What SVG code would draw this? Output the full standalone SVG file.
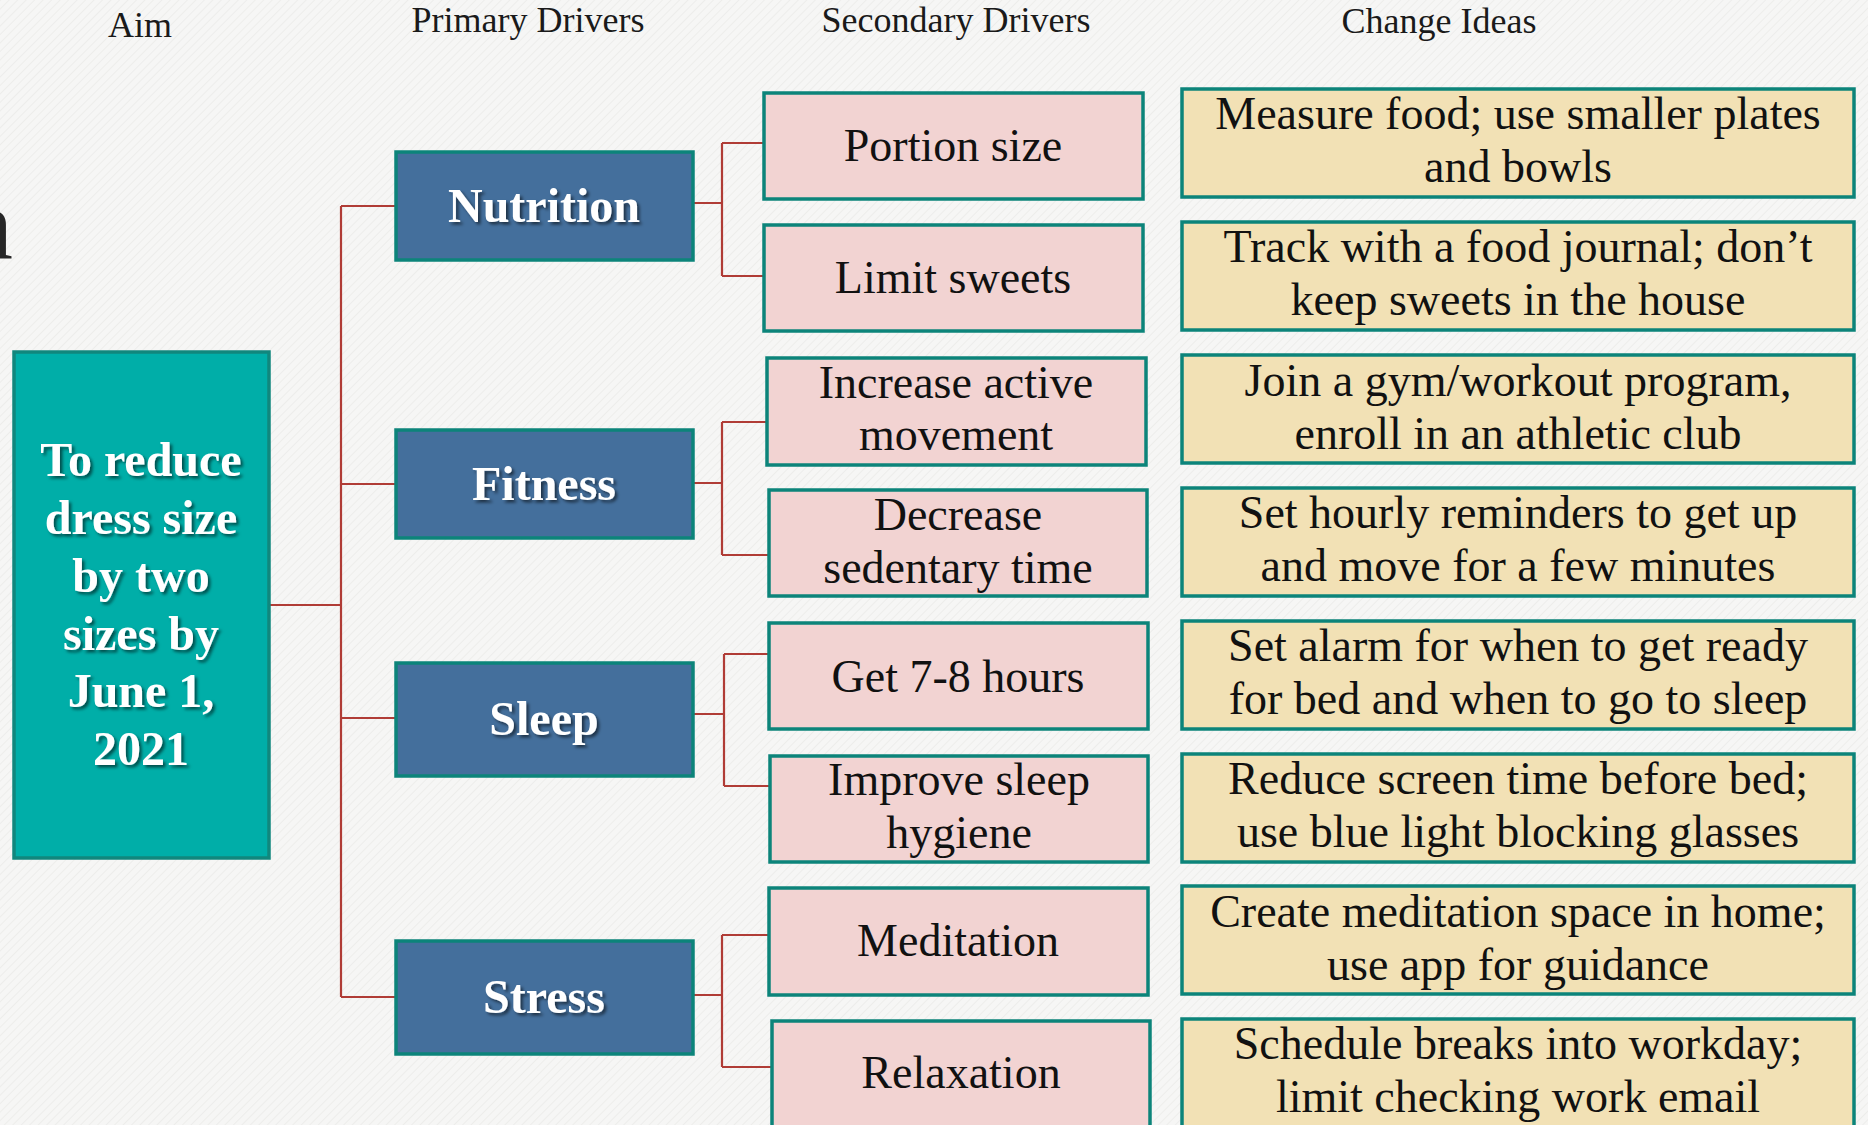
<svg xmlns="http://www.w3.org/2000/svg" width="1868" height="1125" viewBox="0 0 1868 1125">
  <defs>
    <pattern id="paper" width="6" height="6" patternUnits="userSpaceOnUse" patternTransform="rotate(45)">
      <rect width="6" height="6" fill="#f6f6f5"/>
      <line x1="0" y1="0" x2="0" y2="6" stroke="#ededeb" stroke-width="2"/>
    </pattern>
    <filter id="shadow" x="-10%" y="-20%" width="130%" height="150%">
      <feDropShadow dx="2.5" dy="2.5" stdDeviation="1.5" flood-color="#000" flood-opacity="0.55"/>
    </filter>
  </defs>
  <style>
    .hdr { font-family: "Liberation Serif", "DejaVu Serif", serif; font-size: 36px; fill: #1a1a1a; text-anchor: middle; }
    .aim rect { fill: #00aea8; stroke: #11877d; stroke-width: 3.5; }
    .pri rect { fill: #446f9c; stroke: #0c847a; stroke-width: 3.5; }
    .sec rect { fill: #f2d3d2; stroke: #0c847a; stroke-width: 3.5; }
    .chg rect { fill: #f2e1b5; stroke: #0c847a; stroke-width: 3.5; }
    .wt { font-family: "Liberation Serif", "DejaVu Serif", serif; font-weight: bold; fill: #ffffff; text-anchor: middle; filter: url(#shadow); }
    .bt { font-family: "Liberation Serif", "DejaVu Serif", serif; font-size: 46px; fill: #111111; text-anchor: middle; }
    .conn path { fill: none; stroke: #b03c36; stroke-width: 2.2; }
  </style>

  <!-- background -->
  <rect width="1868" height="1125" fill="url(#paper)"/>

  <!-- edge of the slide title -->
  <text x="13" y="258" font-family="Liberation Serif, serif" font-size="100" fill="#262626" text-anchor="end">n</text>

  <!-- column headings -->
  <g id="headings">
    <text class="hdr" x="140" y="37" font-size="35">Aim</text>
    <text class="hdr" x="528" y="32">Primary Drivers</text>
    <text class="hdr" x="956" y="32">Secondary Drivers</text>
    <text class="hdr" x="1439" y="33">Change Ideas</text>
  </g>

  <!-- connectors -->
  <g id="connectors" class="conn">
    <path d="M270 605 H341"/>
    <path d="M341 206 V997"/>
    <path d="M341 206 H395 M341 484 H395 M341 718 H395 M341 997 H395"/>
    <path d="M693 203 H722 M722 143 V276 M722 143 H763 M722 276 H763"/>
    <path d="M693 483 H722 M722 422 V555 M722 422 H766 M722 555 H768"/>
    <path d="M693 714 H724 M724 654 V786 M724 654 H768 M724 786 H769"/>
    <path d="M693 995 H722 M722 935 V1067 M722 935 H768 M722 1067 H771"/>
  </g>

  <!-- aim -->
  <g id="aim" class="aim">
    <rect x="14" y="352" width="255" height="506"/>
    <text class="wt" font-size="48"><tspan x="141" y="476">To reduce</tspan><tspan x="141" y="534">dress size</tspan><tspan x="141" y="592">by two</tspan><tspan x="141" y="650">sizes by</tspan><tspan x="141" y="707">June 1,</tspan><tspan x="141" y="765">2021</tspan></text>
  </g>

  <!-- primary drivers -->
  <g id="nutrition" class="pri">
    <rect x="396" y="152" width="297" height="108"/>
    <text class="wt" font-size="48" x="544" y="222">Nutrition</text>
  </g>
  <g id="fitness" class="pri">
    <rect x="396" y="430" width="297" height="108"/>
    <text class="wt" font-size="48" x="544" y="500">Fitness</text>
  </g>
  <g id="sleep" class="pri">
    <rect x="396" y="663" width="297" height="113"/>
    <text class="wt" font-size="48" x="544" y="735">Sleep</text>
  </g>
  <g id="stress" class="pri">
    <rect x="396" y="941" width="297" height="113"/>
    <text class="wt" font-size="48" x="544" y="1013">Stress</text>
  </g>

  <!-- secondary drivers -->
  <g id="portion-size" class="sec">
    <rect x="764" y="93" width="379" height="106"/>
    <text class="bt" x="953" y="161">Portion size</text>
  </g>
  <g id="limit-sweets" class="sec">
    <rect x="764" y="225" width="379" height="106"/>
    <text class="bt" x="953" y="293">Limit sweets</text>
  </g>
  <g id="active-movement" class="sec">
    <rect x="767" y="358" width="379" height="107"/>
    <text class="bt"><tspan x="956" y="398">Increase active</tspan><tspan x="956" y="450">movement</tspan></text>
  </g>
  <g id="sedentary-time" class="sec">
    <rect x="769" y="490" width="378" height="106"/>
    <text class="bt"><tspan x="958" y="530">Decrease</tspan><tspan x="958" y="583">sedentary time</tspan></text>
  </g>
  <g id="hours" class="sec">
    <rect x="769" y="623" width="379" height="106"/>
    <text class="bt" x="958" y="692">Get 7-8 hours</text>
  </g>
  <g id="sleep-hygiene" class="sec">
    <rect x="770" y="756" width="378" height="106"/>
    <text class="bt"><tspan x="959" y="795">Improve sleep</tspan><tspan x="959" y="848">hygiene</tspan></text>
  </g>
  <g id="meditation" class="sec">
    <rect x="769" y="888" width="379" height="107"/>
    <text class="bt" x="958" y="956">Meditation</text>
  </g>
  <g id="relaxation" class="sec">
    <rect x="772" y="1021" width="378" height="120"/>
    <text class="bt" x="961" y="1088">Relaxation</text>
  </g>

  <!-- change ideas -->
  <g id="idea-measure" class="chg">
    <rect x="1182" y="89" width="672" height="108"/>
    <text class="bt"><tspan x="1518" y="129">Measure food; use smaller plates</tspan><tspan x="1518" y="182">and bowls</tspan></text>
  </g>
  <g id="idea-journal" class="chg">
    <rect x="1182" y="222" width="672" height="108"/>
    <text class="bt"><tspan x="1518" y="262">Track with a food journal; don’t</tspan><tspan x="1518" y="315">keep sweets in the house</tspan></text>
  </g>
  <g id="idea-gym" class="chg">
    <rect x="1182" y="355" width="672" height="108"/>
    <text class="bt"><tspan x="1518" y="396">Join a gym/workout program,</tspan><tspan x="1518" y="449">enroll in an athletic club</tspan></text>
  </g>
  <g id="idea-reminders" class="chg">
    <rect x="1182" y="488" width="672" height="108"/>
    <text class="bt"><tspan x="1518" y="528">Set hourly reminders to get up</tspan><tspan x="1518" y="581">and move for a few minutes</tspan></text>
  </g>
  <g id="idea-alarm" class="chg">
    <rect x="1182" y="621" width="672" height="108"/>
    <text class="bt"><tspan x="1518" y="661">Set alarm for when to get ready</tspan><tspan x="1518" y="714">for bed and when to go to sleep</tspan></text>
  </g>
  <g id="idea-screen" class="chg">
    <rect x="1182" y="754" width="672" height="108"/>
    <text class="bt"><tspan x="1518" y="794">Reduce screen time before bed;</tspan><tspan x="1518" y="847">use blue light blocking glasses</tspan></text>
  </g>
  <g id="idea-meditation" class="chg">
    <rect x="1182" y="886" width="672" height="108"/>
    <text class="bt"><tspan x="1518" y="927">Create meditation space in home;</tspan><tspan x="1518" y="980">use app for guidance</tspan></text>
  </g>
  <g id="idea-breaks" class="chg">
    <rect x="1182" y="1019" width="672" height="120"/>
    <text class="bt"><tspan x="1518" y="1059">Schedule breaks into workday;</tspan><tspan x="1518" y="1112">limit checking work email</tspan></text>
  </g>
</svg>
